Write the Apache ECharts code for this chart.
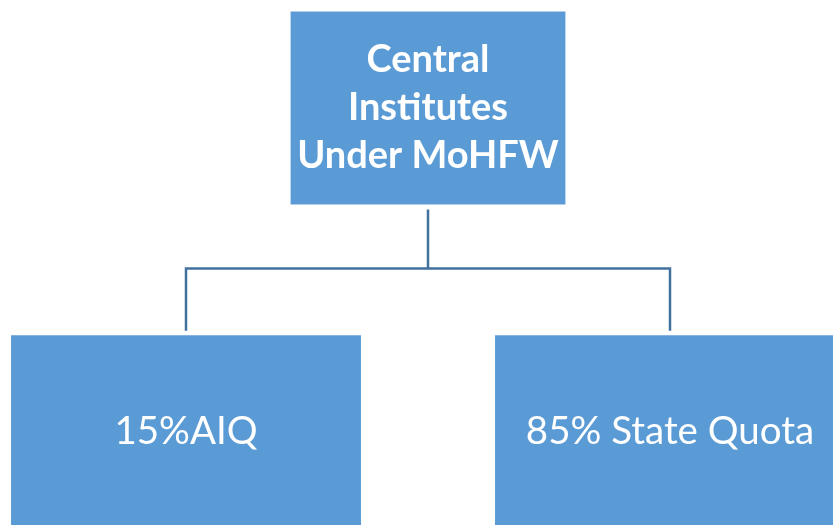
<!DOCTYPE html>
<html>
<head>
<meta charset="utf-8">
<script src="https://cdn.jsdelivr.net/npm/echarts@6/dist/echarts.min.js"></script>
<style>
  html, body { margin: 0; padding: 0; background: #fff; }
  #chart { width: 833px; height: 525px; }
</style>
</head>
<body>
<div id="chart"></div>
<script>
// org chart nodes
const rootLabel = 'Central\nInstitutes\nUnder MoHFW';
const childLabels = ['15%AIQ', '85% State Quota'];

const BOX = '#5B9BD5';
const LINE = '#41719C';

const chart = echarts.init(document.getElementById('chart'));

const treeData = {
  name: rootLabel,
  symbolSize: [282, 198],
  label: { fontWeight: 'bold', fontSize: 38, lineHeight: 48 },
  children: childLabels.map(function (n) {
    return { name: n, symbolSize: [358, 198], label: { fontSize: 38.5 } };
  })
};

// tree layout pads half a node gap on each side, so the box is widened
// to put the two leaves at x=186 and x=670
chart.setOption({
  animation: false,
  series: [{
    type: 'tree',
    data: [treeData],
    orient: 'TB',
    layout: 'orthogonal',
    edgeShape: 'polyline',
    edgeForkPosition: '49.5%',
    expandAndCollapse: false,
    roam: false,
    left: -56,
    width: 968,
    top: 108,
    bottom: 93,
    symbol: 'rect',
    itemStyle: { color: BOX, borderColor: '#fff', borderWidth: 6 },
    lineStyle: { color: LINE, width: 2.5, curveness: 0 },
    label: {
      position: 'inside',
      color: '#fff',
      fontFamily: 'Lato',
      align: 'center',
      verticalAlign: 'middle'
    },
    leaves: {
      label: { position: 'inside', verticalAlign: 'middle', align: 'center' }
    },
    emphasis: { disabled: true }
  }]
});
</script>
</body>
</html>
